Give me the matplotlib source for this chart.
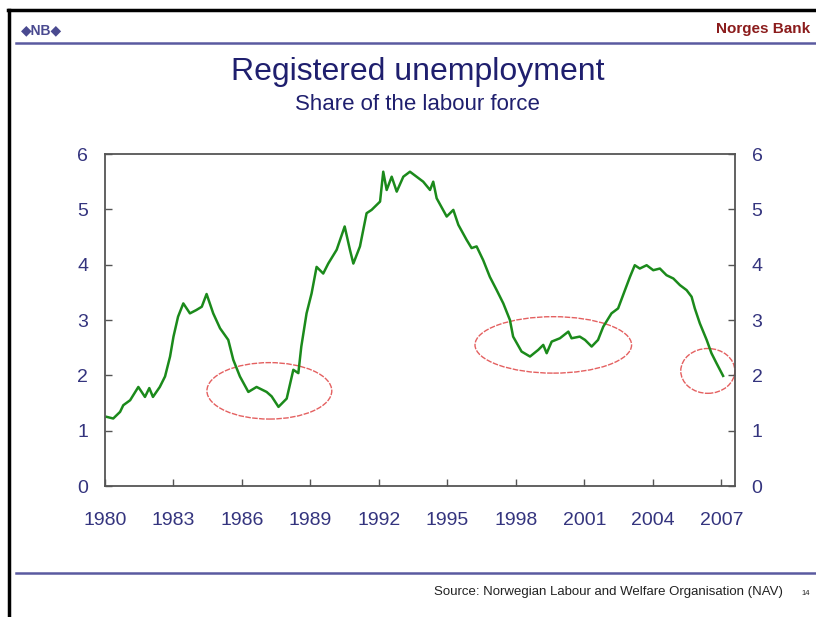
import matplotlib
matplotlib.use('Agg')
import matplotlib.pyplot as plt
from matplotlib.patches import Ellipse
from matplotlib.lines import Line2D

plt.rcParams['font.family'] = ['Liberation Sans', 'DejaVu Sans']

# registered unemployment, % of labour force
years = [1980.07, 1980.36, 1980.66, 1980.80, 1981.10, 1981.46, 1981.75, 1981.94,
         1982.10, 1982.40, 1982.63, 1982.85, 1983.00, 1983.20, 1983.43, 1983.72,
         1984.00, 1984.24, 1984.45, 1984.74, 1985.04, 1985.40, 1985.62, 1985.91,
         1986.28, 1986.64, 1987.08, 1987.30, 1987.60, 1987.96, 1988.25, 1988.47,
         1988.60, 1988.83, 1989.05, 1989.27, 1989.56, 1989.78, 1990.15, 1990.50,
         1990.73, 1990.88, 1991.17, 1991.46, 1991.68, 1992.05, 1992.19, 1992.34,
         1992.56, 1992.78, 1993.07, 1993.36, 1993.65, 1993.94, 1994.24, 1994.38,
         1994.53, 1994.97, 1995.26, 1995.48, 1995.84, 1996.06, 1996.28, 1996.57,
         1996.86, 1997.16, 1997.45, 1997.74, 1997.88, 1998.25, 1998.62, 1998.98,
         1999.20, 1999.35, 1999.57, 1999.93, 2000.30, 2000.44, 2000.80, 2001.03,
         2001.32, 2001.60, 2001.83, 2002.19, 2002.48, 2002.78, 2003.00, 2003.21,
         2003.43, 2003.73, 2004.02, 2004.31, 2004.60, 2004.90, 2005.19, 2005.48,
         2005.70, 2005.84, 2006.06, 2006.36, 2006.57, 2006.79, 2007.08]
unemp = [1.25, 1.22, 1.34, 1.46, 1.55, 1.79, 1.61, 1.77,
         1.61, 1.79, 1.98, 2.34, 2.70, 3.06, 3.30, 3.12,
         3.18, 3.24, 3.47, 3.12, 2.85, 2.64, 2.28, 1.98,
         1.70, 1.79, 1.70, 1.62, 1.43, 1.58, 2.10, 2.04,
         2.52, 3.12, 3.48, 3.96, 3.84, 4.02, 4.27, 4.69,
         4.27, 4.02, 4.33, 4.93, 4.99, 5.14, 5.68, 5.35,
         5.59, 5.32, 5.59, 5.68, 5.59, 5.50, 5.35, 5.50,
         5.20, 4.87, 4.99, 4.72, 4.45, 4.30, 4.33, 4.08,
         3.78, 3.54, 3.30, 3.00, 2.70, 2.43, 2.34, 2.46,
         2.55, 2.40, 2.61, 2.67, 2.79, 2.67, 2.70, 2.64,
         2.52, 2.64, 2.88, 3.12, 3.21, 3.54, 3.78, 3.99,
         3.93, 3.99, 3.90, 3.93, 3.81, 3.75, 3.63, 3.54,
         3.42, 3.21, 2.94, 2.64, 2.40, 2.22, 1.99]

x_ticks = [1980, 1983, 1986, 1989, 1992, 1995, 1998, 2001, 2004, 2007]
y_ticks = [0, 1, 2, 3, 4, 5, 6]

# highlighted periods: centre year, centre value, width (years), height (pp)
hl_x = [1987.2, 1999.64, 2006.41]
hl_y = [1.72, 2.55, 2.08]
hl_w = [5.47, 6.86, 2.37]
hl_h = [1.02, 1.02, 0.81]

navy = '#1f1f6e'
tick_col = '#34347e'

fig = plt.figure(figsize=(8.16, 6.17), dpi=100)
ax = fig.add_axes([0.1287, 0.2123, 0.772, 0.5381])

ax.plot(years, unemp, color='#1b8a1b', linewidth=1.8)
for cx, cy, w, h in zip(hl_x, hl_y, hl_w, hl_h):
    ax.add_patch(Ellipse((cx, cy), w, h, fill=False, edgecolor='#e46060',
                         linewidth=1.0, linestyle=(0, (4, 1)), clip_on=False))

ax.set_xlim(1980, 2007.6)
ax.set_ylim(0, 6)
ax.set_xticks(x_ticks)
ax.set_yticks(y_ticks)
ax.tick_params(axis='both', direction='in', length=5, width=1, color='#555555',
               labelsize=14, labelcolor=tick_col)
ax.tick_params(axis='x', pad=19)
ax.tick_params(axis='y', pad=12)
for sp in ax.spines.values():
    sp.set_color('#555555')
    sp.set_linewidth(1.3)

ax2 = ax.twinx()
ax2.set_ylim(0, 6)
ax2.set_yticks(y_ticks)
ax2.tick_params(axis='y', direction='in', length=5, width=1, color='#555555',
                labelsize=14, labelcolor=tick_col, pad=12)
for sp in ax2.spines.values():
    sp.set_visible(False)

# slide frame and header/footer
fig.add_artist(Line2D([0.010, 1.0], [0.983, 0.983], color='black', linewidth=2.5))
fig.add_artist(Line2D([0.011, 0.011], [0.0, 0.983], color='black', linewidth=2.5))
fig.add_artist(Line2D([0.020, 1.0], [0.930, 0.930], color='#5a5aa0', linewidth=1.8))
fig.add_artist(Line2D([0.020, 1.0], [0.071, 0.071], color='#5a5aa0', linewidth=1.8))

fig.text(0.026, 0.951, '\u25c6NB\u25c6', fontsize=10, fontweight='bold',
         color='#4a4a90', ha='left', va='center')
fig.text(0.993, 0.953, 'Norges Bank', fontsize=11, fontweight='bold',
         color='#8b1c1c', ha='right', va='center')
fig.text(0.512, 0.883, 'Registered unemployment', fontsize=23,
         color=navy, ha='center', va='center')
fig.text(0.512, 0.831, 'Share of the labour force', fontsize=16,
         color=navy, ha='center', va='center')
fig.text(0.960, 0.040, 'Source: Norwegian Labour and Welfare Organisation (NAV)',
         fontsize=9.5, color='#222222', ha='right', va='center')
fig.text(0.987, 0.038, '14', fontsize=5.5, color='#222222', ha='center', va='center')

fig.savefig('out.png', dpi=100)
